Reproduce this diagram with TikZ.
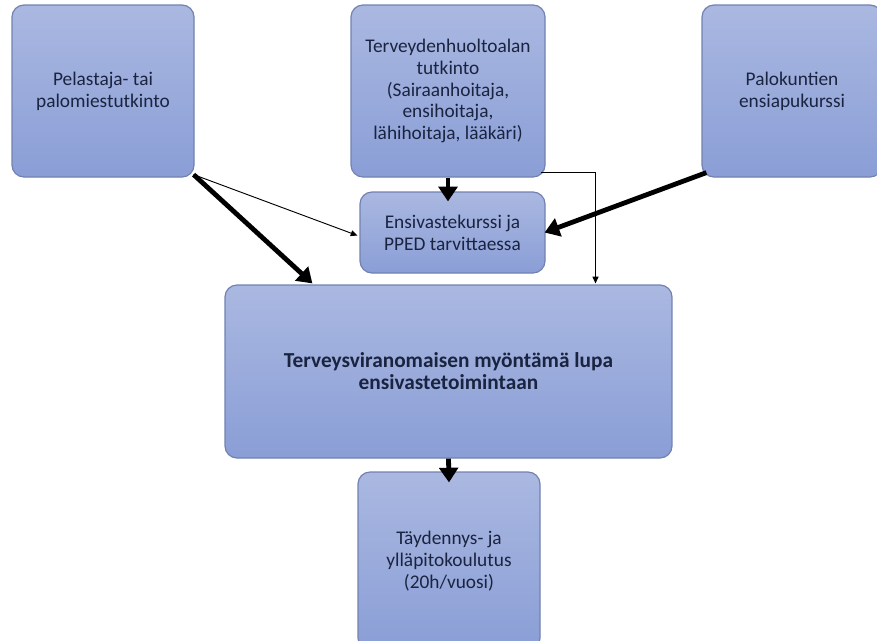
\documentclass[tikz,border=0pt]{standalone}
\usepackage{fontspec}
\setmainfont{Carlito}
\usetikzlibrary{arrows.meta,calc}
\definecolor{boxtop}{HTML}{AAB8E1}
\definecolor{boxbot}{HTML}{8A9ED6}
\definecolor{boxline}{HTML}{7282B0}
\definecolor{txt}{HTML}{1A2440}
\tikzset{
  box/.style={draw=boxline, line width=0.9pt, rounded corners=9pt, top color=boxtop, bottom color=boxbot,
    text=txt, align=center, inner sep=0pt, font=\fontsize{14.5}{16.3}\selectfont},
  thick arrow/.style={line width=3.6pt, -{Triangle[length=11pt,width=14pt]}},
  thin arrow/.style={line width=0.7pt, -{Triangle[length=5pt,width=4.5pt]}},
}
\begin{document}
\begin{tikzpicture}[x=0.75pt,y=-0.75pt]
\useasboundingbox (0,0) rectangle (877,640);
\clip (0,0) rectangle (877,640);
\node[box, minimum width=182*0.75pt, minimum height=172*0.75pt] (b1) at (103,91) {Pelastaja- tai\\palomiestutkinto};
\node[box, minimum width=194*0.75pt, minimum height=172*0.75pt] (b2) at (448,91) {Terveydenhuoltoalan\\tutkinto\\(Sairaanhoitaja,\\ensihoitaja,\\lähihoitaja, lääkäri)};
\node[box, minimum width=180*0.75pt, minimum height=172*0.75pt] (b3) at (792,91) {Palokuntien\\ensiapukurssi};
\node[box, minimum width=185*0.75pt, minimum height=81*0.75pt] (b4) at (452.5,232.5) {Ensivastekurssi ja\\PPED tarvittaessa};
\node[box, minimum width=447*0.75pt, minimum height=173*0.75pt, font=\fontsize{16}{16.5}\selectfont\bfseries] (b5) at (448.5,371.5) {Terveysviranomaisen myöntämä lupa\\ensivastetoimintaan};
\node[box, minimum width=182*0.75pt, minimum height=178*0.75pt] (b6) at (449,561) {Täydennys- ja\\ylläpitokoulutus\\(20h/vuosi)};

\coordinate (b1c) at ($(b1.south east)+(-1,-3)$);
\draw[thin arrow] (b1c) -- ($(b4.west)+(-2,3)$);
\draw[thick arrow] (b1c) -- ($(b5.north west)+(88,-1)$);
\draw[thick arrow] ($(b3.south west)+(5,-5)$) -- ($(b4.east)+(-1,0)$);
\draw[thick arrow] ($(b2.south)+(0,0)$) -- ($(b4.north)+(-4.5,10)$);
\draw[thin arrow] ($(b2.south east)+(-5,-5)$) -| ($(b5.north)+(147,-1)$);
\draw[thick arrow] (b5.south) -- ($(b6.north)+(0,11)$);
\end{tikzpicture}
\end{document}
